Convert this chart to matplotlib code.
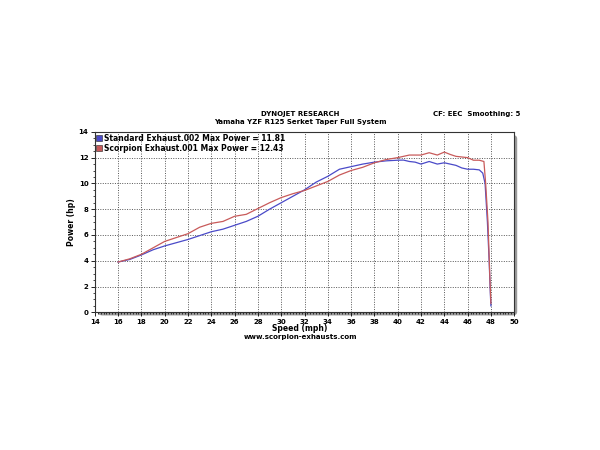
import matplotlib
matplotlib.use('Agg')
import matplotlib.pyplot as plt
from matplotlib.patches import FancyBboxPatch
from matplotlib.lines import Line2D
from matplotlib.ticker import MultipleLocator

## Dyno run values
std_speed = [16.0, 17.0, 18.0, 19.0, 20.0, 21.0, 22.0, 23.0, 24.0, 25.0,
             26.0, 27.0, 28.0, 29.0, 30.0, 31.0, 32.0, 33.0, 34.0, 35.0,
             36.0, 37.0, 38.0, 39.0, 40.0, 40.5, 41.0, 41.5, 42.0, 42.7,
             43.4, 44.0, 44.5, 45.0, 45.5, 46.0, 46.5, 47.0, 47.3, 47.5,
             47.7, 47.85, 47.95, 48.0]
std_power = [3.9, 4.1, 4.45, 4.85, 5.15, 5.4, 5.65, 5.95, 6.25, 6.45,
             6.75, 7.05, 7.45, 8.0, 8.5, 9.0, 9.5, 10.1, 10.55, 11.1,
             11.3, 11.5, 11.65, 11.75, 11.8, 11.81, 11.7, 11.65, 11.5, 11.7,
             11.5, 11.6, 11.5, 11.4, 11.2, 11.1, 11.1, 11.05, 10.8, 10.0,
             7.0, 4.0, 1.5, 0.5]

sc_speed = [16.0, 17.0, 18.0, 19.0, 20.0, 21.0, 22.0, 23.0, 24.0, 25.0,
            26.0, 27.0, 28.0, 29.0, 30.0, 31.0, 32.0, 33.0, 34.0, 35.0,
            36.0, 37.0, 38.0, 39.0, 40.0, 41.0, 42.0, 42.7, 43.4, 44.0,
            44.5, 45.0, 46.0, 46.5, 47.0, 47.4, 47.55, 47.75, 47.9, 48.0]
sc_power = [3.9, 4.15, 4.5, 5.0, 5.5, 5.8, 6.1, 6.6, 6.9, 7.05,
            7.45, 7.6, 8.05, 8.5, 8.9, 9.2, 9.45, 9.8, 10.15, 10.65,
            11.0, 11.25, 11.6, 11.85, 12.0, 12.2, 12.2, 12.38, 12.2, 12.43,
            12.25, 12.1, 12.0, 11.8, 11.8, 11.7, 10.0, 7.0, 3.0, 0.7]

labels = ['Standard Exhaust.002 Max Power = 11.81',
          'Scorpion Exhaust.001 Max Power = 12.43']
blue = '#4a4ac8'
red = '#c85a5a'

fig = plt.figure(figsize=(6, 4.5), dpi=100)
ax = fig.add_axes([0.158, 0.306, 0.699, 0.401])

## gray drop shadow behind the plot frame
shadow = FancyBboxPatch((0.158 + 0.005, 0.306 - 0.007), 0.699, 0.401,
                        boxstyle='round,pad=0,rounding_size=0.008',
                        transform=fig.transFigure, facecolor='#9a9a9a',
                        edgecolor='none', zorder=-1)
fig.patches.append(shadow)

ax.plot(std_speed, std_power, color=blue, lw=0.9, zorder=3)
ax.plot(sc_speed, sc_power, color=red, lw=0.9, zorder=3)

ax.set_xlim(14, 50)
ax.set_ylim(0, 14)
ax.xaxis.set_major_locator(MultipleLocator(2))
ax.xaxis.set_minor_locator(MultipleLocator(0.25))
ax.yaxis.set_major_locator(MultipleLocator(2))
ax.yaxis.set_minor_locator(MultipleLocator(0.5))
ax.grid(True, which='major', color='#555555', ls=(0, (1, 1.5)), lw=0.7)
ax.tick_params(which='major', length=3, width=0.6, labelsize=5, pad=1.5)
ax.tick_params(which='minor', length=1.5, width=0.5)
for lab in ax.get_xticklabels() + ax.get_yticklabels():
    lab.set_fontweight('bold')
for s in ax.spines.values():
    s.set_linewidth(0.8)
    s.set_color('#333333')

ax.set_ylabel('Power (hp)', fontsize=5.5, fontweight='bold', labelpad=2)

handles = [Line2D([], [], ls='none', marker='s', ms=4, mfc=blue, mec='#222222', mew=0.4),
           Line2D([], [], ls='none', marker='s', ms=4, mfc=red, mec='#222222', mew=0.4)]
leg = ax.legend(handles, labels, loc='upper left', frameon=False,
                prop={'size': 5.5, 'weight': 'bold'}, handlelength=0.6,
                handletextpad=0.3, labelspacing=0.1, borderaxespad=0.2,
                borderpad=0.1)

fig.text(0.5, 0.742, 'DYNOJET RESEARCH', ha='center', fontsize=5, fontweight='bold')
fig.text(0.5, 0.724, 'Yamaha YZF R125 Serket Taper Full System', ha='center',
         fontsize=5, fontweight='bold')
fig.text(0.868, 0.742, 'CF: EEC  Smoothing: 5', ha='right', fontsize=5, fontweight='bold')
fig.text(0.5, 0.271, 'Speed (mph)', ha='center', va='center', fontsize=5.5,
         fontweight='bold')
fig.text(0.5, 0.252, 'www.scorpion-exhausts.com', ha='center', va='center',
         fontsize=5, fontweight='bold')

fig.savefig('out.png', dpi=100)
